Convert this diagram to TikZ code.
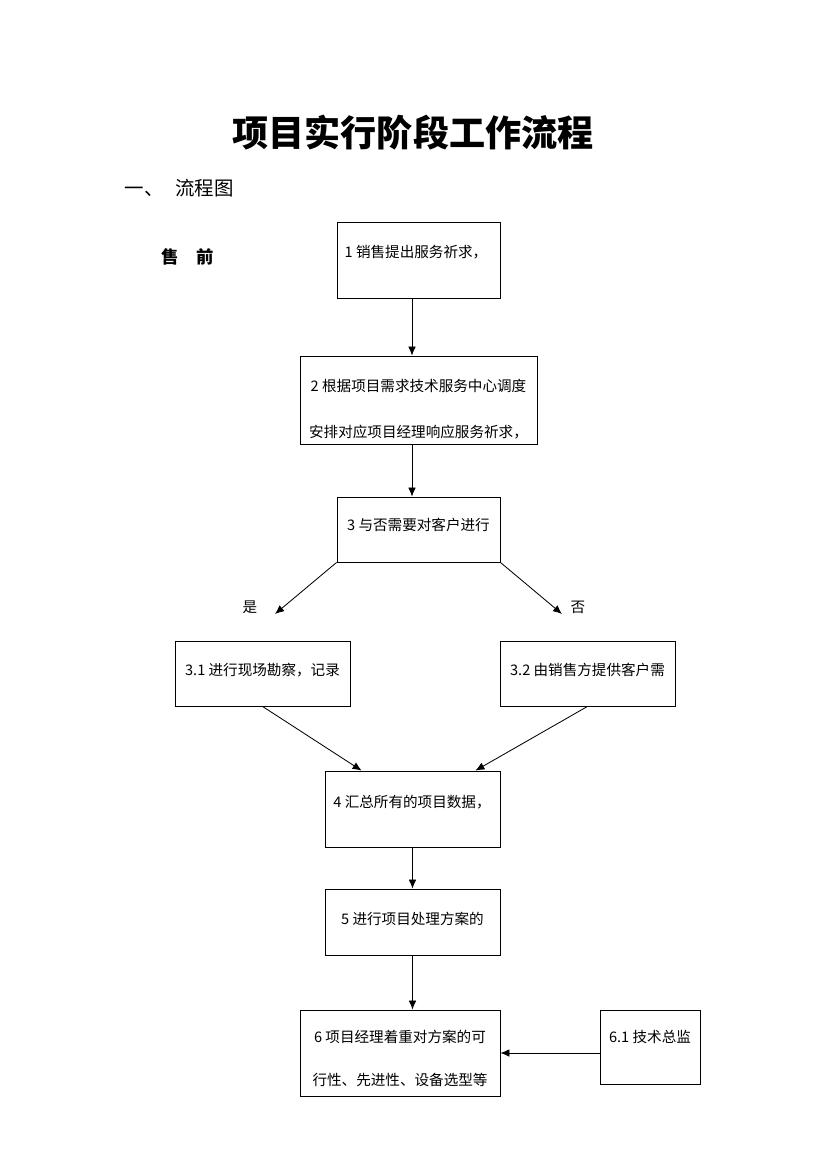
\documentclass[tikz,border=0pt]{standalone}
\usepackage{fontspec}
\setmainfont{Liberation Serif}
\newfontfamily\cjk{Noto Sans CJK SC}
\usepackage{tikz}
\usetikzlibrary{
  arrows.meta,
  calc,
  positioning
}
\newcommand{\px}{0.72pt}
\tikzset{
  stepbox/.style={draw, line width=0.6pt, inner sep=0pt},
  steptext/.style={font=\cjk\fontsize{10.5}{12}\selectfont, inner sep=0pt},
  flowarrow/.style={-{Latex[length=6.5pt,width=5.5pt]}, line width=0.6pt}
}

\begin{document}
\begin{tikzpicture}[x=\px, y=-\px]
  \useasboundingbox (0,0) rectangle (826,1169);
  % Title and heading
  \node[font=\cjk\bfseries\fontsize{26}{30}\selectfont] (title) at (413,133) {项目实行阶段工作流程};
  \node[font=\cjk\fontsize{14}{16}\selectfont, anchor=west] (head) at (120,188) {一、\hspace{0.6em}流程图};
  \node[font=\cjk\bfseries\fontsize{12.5}{14}\selectfont] (phase) at (188,257) {售\hspace{1em}前};
  % Boxes
  \node[stepbox, minimum width=163*\px, minimum height=76*\px] (b1) at (418.5,260) {};
  \node[stepbox, minimum width=237*\px, minimum height=88*\px] (b2) at (418.5,400) {};
  \node[stepbox, minimum width=163*\px, minimum height=65*\px] (b3) at (418.5,529.5) {};
  \node[stepbox, minimum width=175*\px, minimum height=65*\px] (b31) at (262.5,673.5) {};
  \node[stepbox, minimum width=175*\px, minimum height=65*\px] (b32) at (587.5,673.5) {};
  \node[stepbox, minimum width=175*\px, minimum height=76*\px] (b4) at (412.5,809) {};
  \node[stepbox, minimum width=175*\px, minimum height=66*\px] (b5) at (412.5,922) {};
  \node[stepbox, minimum width=200*\px, minimum height=86*\px] (b6) at (400,1053) {};
  \node[stepbox, minimum width=100*\px, minimum height=74*\px] (b61) at (650,1047) {};
  % Box texts
  \node[steptext] (t1) at (416,252) {1 销售提出服务祈求，};
  \node[steptext] (t2a) at (418.5,386) {2 根据项目需求技术服务中心调度};
  \node[steptext] (t2b) at (418.5,432) {安排对应项目经理响应服务祈求，};
  \node[steptext] (t3) at (418.5,525) {3 与否需要对客户进行};
  \node[steptext] (t31) at (262.5,670) {3.1 进行现场勘察，记录};
  \node[steptext] (t32) at (587.5,670) {3.2 由销售方提供客户需};
  \node[steptext] (t4) at (412,802) {4 汇总所有的项目数据，};
  \node[steptext] (t5) at (412.5,919) {5 进行项目处理方案的};
  \node[steptext] (t6a) at (400,1037) {6 项目经理着重对方案的可};
  \node[steptext] (t6b) at (400,1080) {行性、先进性、设备选型等};
  \node[steptext] (t61) at (650,1037) {6.1 技术总监};
  % Branch labels
  \node[steptext] (yes) at (250,607) {是};
  \node[steptext] (no) at (578,607) {否};
  % Connectors
  \coordinate (c12) at ($(b1.south)+(-6.5,0)$);
  \coordinate (c23) at ($(b2.south)+(-6.5,0)$);
  \coordinate (cyes) at (275,614);
  \coordinate (cno) at (562,614);
  \draw[flowarrow] (c12) -- (c12 |- b2.north);
  \draw[flowarrow] (c23) -- (c23 |- b3.north);
  \draw[flowarrow] (b3.south west) -- (cyes);
  \draw[flowarrow] (b3.south east) -- (cno);
  \draw[flowarrow] (b31.south) -- ($(b4.north west)+(37,0)$);
  \draw[flowarrow] (b32.south) -- ($(b4.north east)+(-25,0)$);
  \draw[flowarrow] (b4.south) -- (b5.north);
  \draw[flowarrow] (b5.south) -- (b5.south |- b6.north);
  \draw[flowarrow] (b61.west |- b6) -- (b6.east);
\end{tikzpicture}
\end{document}
